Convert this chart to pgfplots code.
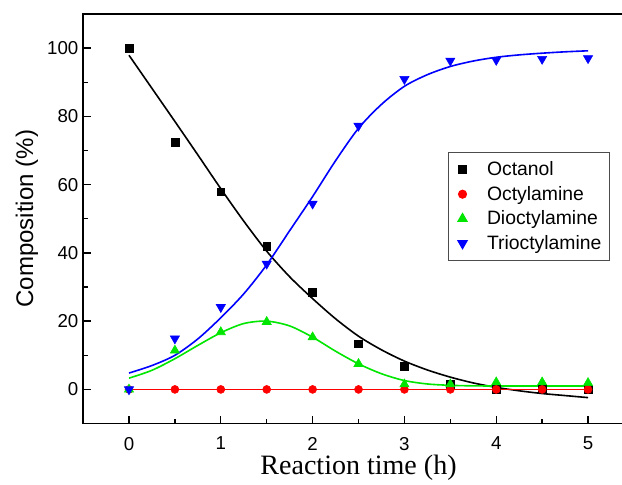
\documentclass[border=0pt]{standalone}
\usepackage{fontspec}
\setmainfont{Liberation Sans}
\newfontfamily\timesfont{Liberation Serif}
\usepackage{pgfplots}
\pgfplotsset{compat=1.18}
\definecolor{mygreen}{RGB}{0,230,0}
\definecolor{myblue}{RGB}{0,0,255}
\definecolor{myred}{RGB}{255,0,0}
\begin{document}
\begin{tikzpicture}
\begin{axis}[
 scale only axis, width=412.5pt, height=306.75pt,
 xmin=-0.5, xmax=5.5, ymin=-10, ymax=110,
 xtick={0,...,5}, ytick={0,20,...,100},
 minor x tick num=1, minor y tick num=1,
 xtick pos=bottom, ytick pos=left,
 major tick length=6pt, minor tick length=3.5pt,
 axis line style={line width=1.2pt},
 every tick/.style={line width=1pt, black},
 tick label style={font=\fontsize{14}{16}\selectfont},
 xticklabel style={yshift=-6.5pt},
 /pgf/number format/assume math mode=true,
 xlabel={\timesfont Reaction time (h)},
 ylabel={Composition (\%)},
 xlabel style={font=\fontsize{21}{23}\selectfont, yshift=3pt},
 ylabel style={font=\fontsize{18}{20}\selectfont},
 legend style={at={(0.662,0.662)}, anchor=north west,
   font=\fontsize{14.5}{17.5}\selectfont, draw=black!70, line width=0.8pt,
   inner xsep=4pt, inner ysep=4.5pt, row sep=2.4pt},
 legend image code/.code={\path (0cm,0cm) (0.78cm,0cm);
   \draw[#1] plot coordinates {(0.22cm,0cm)};},
 legend cell align=left,
]
% fitted curves
\addplot[black, line width=1.2pt, smooth, forget plot] coordinates {
(0,97.9)(0.25,88.2)(0.5,78.5)(0.75,68.7)(1,58.8)(1.25,49.3)(1.5,40.5)(1.75,33.0)
(2,26.6)(2.25,20.7)(2.5,15.6)(2.75,11.6)(3,8.3)(3.25,5.7)(3.5,3.6)(3.75,1.9)
(4,0.6)(4.25,-0.4)(4.5,-1.2)(4.75,-1.8)(5,-2.4)};
\addplot[myred, line width=1.2pt, forget plot] coordinates {(0,0)(5,0)};
\addplot[mygreen, line width=1.2pt, smooth, forget plot] coordinates {
(0,3.3)(0.25,5.6)(0.5,9.0)(0.75,12.9)(1,16.6)(1.25,19.3)(1.5,20.0)(1.75,18.6)
(2,15.3)(2.25,11.2)(2.5,7.5)(2.75,4.6)(3,2.6)(3.25,1.6)(3.5,1.2)(3.75,1.05)
(4,1.0)(4.5,1.0)(5,1.0)};
\addplot[myblue, line width=1.2pt, smooth, forget plot] coordinates {
(0,4.8)(0.25,7.0)(0.5,10.0)(0.75,14.8)(1,21.0)(1.25,28.0)(1.5,36.5)(1.75,46.5)
(2,56.5)(2.25,67.0)(2.5,76.5)(2.75,83.5)(3,88.8)(3.25,92.2)(3.5,94.6)(3.75,96.2)
(4,97.3)(4.25,98.0)(4.5,98.5)(4.75,98.9)(5,99.2)};
% data points
\addplot[only marks, mark=square*, mark size=2.9pt, black] coordinates {
(0,100)(0.5,72.5)(1,57.9)(1.5,42.0)(2,28.5)(2.5,13.4)(3,6.7)(3.5,1.5)(4,0)(4.5,0)(5,0)};
\addlegendentry{Octanol}
\addplot[only marks, mark=*, mark size=3pt, myred] coordinates {
(0,0)(0.5,0)(1,0)(1.5,0)(2,0)(2.5,0)(3,0)(3.5,0)(4,0)(4.5,0)(5,0)};
\addlegendentry{Octylamine}
\addplot[only marks, mark=triangle*, mark size=4pt, mygreen] coordinates {
(0,0)(0.5,11.4)(1,16.8)(1.5,19.8)(2,15.3)(2.5,7.5)(3,1.5)(3.5,1.5)(4,2.1)(4.5,2.1)(5,1.9)};
\addlegendentry{Dioctylamine}
\addplot[only marks, mark=triangle*, mark size=4pt, myblue, mark options={rotate=180}] coordinates {
(0,0)(0.5,14.9)(1,24.1)(1.5,36.8)(2,54.4)(2.5,77.2)(3,90.9)(3.5,96.3)(4,96.5)(4.5,96.8)(5,97.0)};
\addlegendentry{Trioctylamine}
\coordinate (BL) at (axis cs:-1.405,-27.86);
\coordinate (TR) at (axis cs:5.37,114.08);
\end{axis}
\pgfresetboundingbox
\useasboundingbox (BL) rectangle (TR);
\end{tikzpicture}
\end{document}
